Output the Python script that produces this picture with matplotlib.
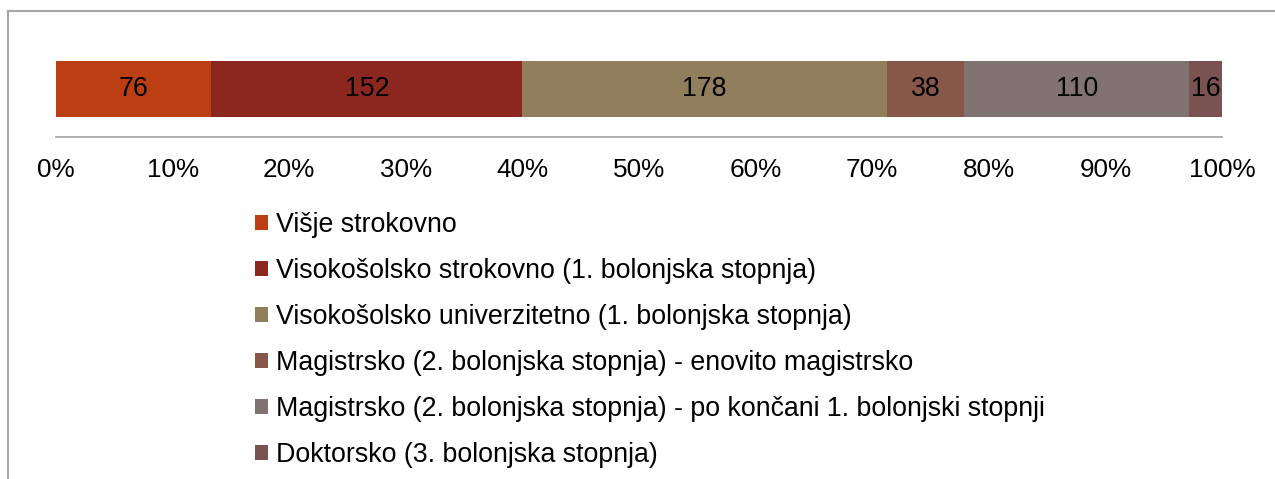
import matplotlib
matplotlib.use("Agg")
import matplotlib.pyplot as plt
from matplotlib.patches import Patch
from matplotlib.lines import Line2D
from matplotlib.ticker import PercentFormatter

plt.rcParams['font.family'] = ['Liberation Sans', 'DejaVu Sans']

# ── Data ──────────────────────────────────────
labels = [
    "Višje strokovno",
    "Visokošolsko strokovno (1. bolonjska stopnja)",
    "Visokošolsko univerzitetno (1. bolonjska stopnja)",
    "Magistrsko (2. bolonjska stopnja) - enovito magistrsko",
    "Magistrsko (2. bolonjska stopnja) - po končani 1. bolonjski stopnji",
    "Doktorsko (3. bolonjska stopnja)",
]
counts = [76, 152, 178, 38, 110, 16]
colors = ["#BC3F14", "#8B271F", "#917E5C", "#87574A", "#827373", "#7A5251"]
xticks = [0, 10, 20, 30, 40, 50, 60, 70, 80, 90, 100]

W, H = 1275, 479
fig = plt.figure(figsize=(W / 100, H / 100), dpi=100)
fs = 18.8
fs_leg = 19.3

# axes: bar 61-117 px, spine at 137 px
ax = fig.add_axes([56 / W, 1 - 137 / H, (1222 - 56) / W, 76 / H])
total = sum(counts)
left = 0.0
for c, col in zip(counts, colors):
    w = c / total * 100
    ax.barh(0, w, left=left, height=1.0, color=col, edgecolor="none")
    ax.text(left + w / 2, 0, str(c), ha="center", va="center", fontsize=19.3, color="black")
    left += w

ax.set_xlim(0, 100)
ax.set_ylim(-0.5 - 20 / 56, 0.5)
ax.set_xticks(xticks)
ax.xaxis.set_major_formatter(PercentFormatter(decimals=0))
ax.tick_params(axis="x", length=0, pad=15, labelsize=fs)
ax.set_yticks([])
for s in ["top", "right", "left"]:
    ax.spines[s].set_visible(False)
ax.spines["bottom"].set_color("#A0A0A0")
ax.spines["bottom"].set_linewidth(1.2)

handles = [Patch(facecolor=c, edgecolor="none") for c in colors]
fig.legend(handles, labels, loc="upper left", bbox_to_anchor=(255 / W, 1 - 212 / H),
           frameon=False, fontsize=fs_leg, handlelength=0.5, handleheight=0.5,
           handletextpad=0.3, labelspacing=0.745, borderpad=0, borderaxespad=0)

# outer chart frame (top and left edges visible)
fig.add_artist(Line2D([8 / W, 1], [1 - 11 / H, 1 - 11 / H], transform=fig.transFigure,
                      color="#A6A6A6", lw=1.5))
fig.add_artist(Line2D([8 / W, 8 / W], [0, 1 - 11 / H], transform=fig.transFigure,
                      color="#A6A6A6", lw=1.5))

fig.savefig("out.png", dpi=100)
